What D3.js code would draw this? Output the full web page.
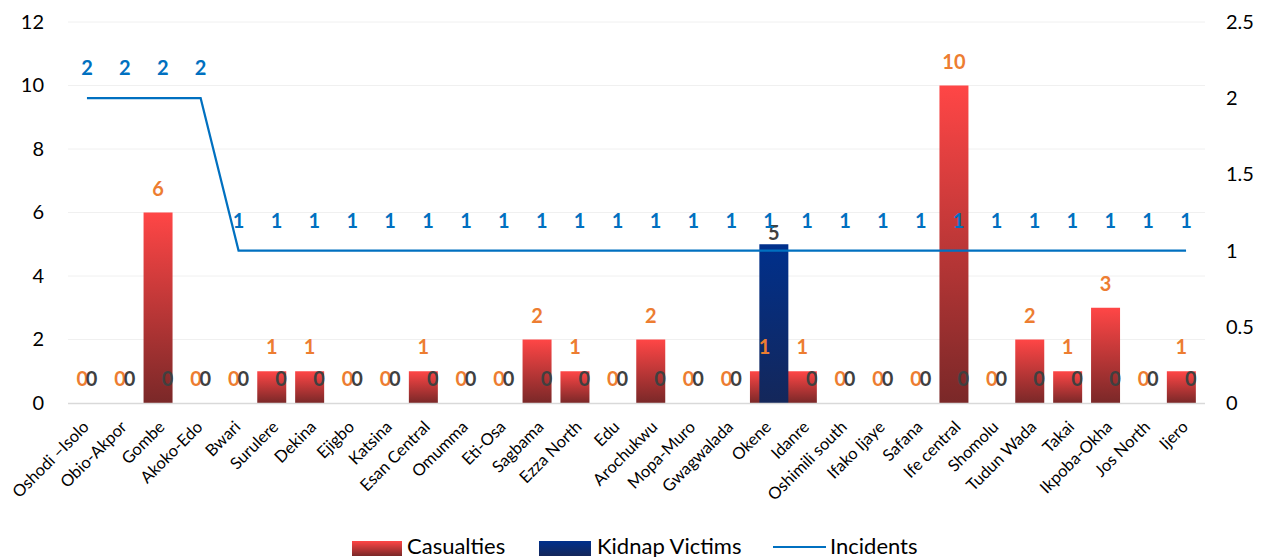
<!DOCTYPE html>
<html>
<head>
<meta charset="utf-8">
<script src="https://cdn.jsdelivr.net/npm/d3@7/dist/d3.min.js"></script>
<style>
  html, body { margin: 0; padding: 0; background: #ffffff; }
  svg { display: block; font-family: Lato, "Open Sans", sans-serif; }
</style>
</head>
<body>
<svg id="chart" width="1269" height="557"></svg>
<script>
// Local government areas
const areas = [
  "Oshodi –Isolo", "Obio-Akpor", "Gombe", "Akoko-Edo", "Bwari", "Surulere",
  "Dekina", "Ejigbo", "Katsina", "Esan Central", "Omumma", "Eti-Osa",
  "Sagbama", "Ezza North", "Edu", "Arochukwu", "Mopa-Muro", "Gwagwalada",
  "Okene", "Idanre", "Oshimili south", "Ifako Ijaye", "Safana", "Ife central",
  "Shomolu", "Tudun Wada", "Takai", "Ikpoba-Okha", "Jos North", "Ijero"
];

// Series values
const casualties = [0, 0, 6, 0, 0, 1, 1, 0, 0, 1, 0, 0, 2, 1, 0, 2, 0, 0, 1, 1, 0, 0, 0, 10, 0, 2, 1, 3, 0, 1];
const kidnapVictims = [0, 0, 0, 0, 0, 0, 0, 0, 0, 0, 0, 0, 0, 0, 0, 0, 0, 0, 5, 0, 0, 0, 0, 0, 0, 0, 0, 0, 0, 0];
const incidents = [2, 2, 2, 2, 1, 1, 1, 1, 1, 1, 1, 1, 1, 1, 1, 1, 1, 1, 1, 1, 1, 1, 1, 1, 1, 1, 1, 1, 1, 1];

// Axis ticks
const leftTicks = [0, 2, 4, 6, 8, 10, 12];
const rightTicks = [0, 0.5, 1, 1.5, 2, 2.5];

const svg = d3.select("#chart");
const plot = { left: 68, right: 1205, top: 22, bottom: 403 };

const x = d3.scaleBand().domain(areas).range([plot.left, plot.right]).padding(0);
const yL = d3.scaleLinear().domain([0, 12]).range([plot.bottom, plot.top]);
const yR = d3.scaleLinear().domain([0, 2.5]).range([plot.bottom, plot.top]);

const barW = x.bandwidth() * 0.765;
const shift = x.bandwidth() * 0.124;
const cx = d => x(d) + x.bandwidth() / 2;

// Gradients for the two bar series
const defs = svg.append("defs");
function grad(id, top, bottom) {
  const g = defs.append("linearGradient").attr("id", id)
    .attr("x1", 0).attr("y1", 0).attr("x2", 0).attr("y2", 1);
  g.append("stop").attr("offset", "0%").attr("stop-color", top);
  g.append("stop").attr("offset", "100%").attr("stop-color", bottom);
}
grad("gCas", "#ff4646", "#7a2828");
grad("gKid", "#00308c", "#14275a");

// Gridlines
svg.append("g").selectAll("line").data(leftTicks.filter(t => t > 0)).join("line")
  .attr("x1", plot.left).attr("x2", plot.right)
  .attr("y1", d => yL(d)).attr("y2", d => yL(d))
  .attr("stroke", "#f0f0f0").attr("stroke-width", 1);

// Left axis
const axL = svg.append("g").attr("transform", `translate(${plot.left - 24},0)`)
  .call(d3.axisLeft(yL).tickValues(leftTicks).tickSize(0).tickPadding(0));
axL.select(".domain").remove();
axL.selectAll("text").attr("font-size", 20).attr("fill", "#000").attr("font-family", "Lato, sans-serif");

// Right axis
const axR = svg.append("g").attr("transform", `translate(${plot.right + 21},0)`)
  .call(d3.axisRight(yR).tickValues(rightTicks).tickSize(0).tickPadding(0).tickFormat(d3.format("")));
axR.select(".domain").remove();
axR.selectAll("text").attr("font-size", 20).attr("fill", "#000").attr("font-family", "Lato, sans-serif");

// Casualties bars
svg.append("g").selectAll("rect").data(areas).join("rect")
  .attr("x", (d) => cx(d) - shift - barW / 2)
  .attr("width", barW)
  .attr("y", (d, i) => yL(casualties[i]))
  .attr("height", (d, i) => yL(0) - yL(casualties[i]))
  .attr("fill", "url(#gCas)");

// Kidnap victims bars
svg.append("g").selectAll("rect").data(areas).join("rect")
  .attr("x", (d) => cx(d) + shift - barW / 2)
  .attr("width", barW)
  .attr("y", (d, i) => yL(kidnapVictims[i]))
  .attr("height", (d, i) => yL(0) - yL(kidnapVictims[i]))
  .attr("fill", "url(#gKid)");

// Baseline
svg.append("line")
  .attr("x1", plot.left).attr("x2", plot.right)
  .attr("y1", plot.bottom + 0.5).attr("y2", plot.bottom + 0.5)
  .attr("stroke", "#d9d9d9").attr("stroke-width", 1.5);

// Incidents line
const line = d3.line().x((d, i) => cx(areas[i])).y(d => yR(d));
svg.append("path").datum(incidents)
  .attr("d", line).attr("fill", "none")
  .attr("stroke", "#0070c0").attr("stroke-width", 2.2);

// Value labels
const lbl = svg.append("g").attr("font-weight", 700).attr("font-size", 20)
  .attr("text-anchor", "middle").attr("dominant-baseline", "central");

lbl.selectAll(".lc").data(areas).join("text").attr("class", "lc")
  .attr("x", d => cx(d) - shift)
  .attr("y", (d, i) => yL(casualties[i]) - 25)
  .attr("fill", "#ed7d31")
  .text((d, i) => casualties[i]);

lbl.selectAll(".lk").data(areas).join("text").attr("class", "lk")
  .attr("x", d => cx(d) + shift)
  .attr("y", (d, i) => yL(kidnapVictims[i]) - (kidnapVictims[i] > 0 ? 12 : 25))
  .attr("fill", "#404040")
  .text((d, i) => kidnapVictims[i]);

lbl.selectAll(".li").data(areas).join("text").attr("class", "li")
  .attr("x", d => cx(d))
  .attr("y", (d, i) => yR(incidents[i]) - 31)
  .attr("fill", "#0070c0")
  .text((d, i) => incidents[i]);

// Category labels
svg.append("g").selectAll("text").data(areas).join("text")
  .attr("transform", d => `translate(${cx(d) + 3},${plot.bottom + 25}) rotate(-45)`)
  .attr("text-anchor", "end")
  .attr("font-size", 16.5)
  .attr("fill", "#000")
  .text(d => d);

// Legend
const leg = svg.append("g").attr("font-size", 22).attr("fill", "#000");
leg.append("rect").attr("x", 352).attr("y", 541).attr("width", 50).attr("height", 15).attr("fill", "url(#gCas)");
leg.append("text").attr("x", 407).attr("y", 545).attr("dominant-baseline", "central").text("Casualties");
leg.append("rect").attr("x", 539).attr("y", 541).attr("width", 52).attr("height", 15).attr("fill", "url(#gKid)");
leg.append("text").attr("x", 597).attr("y", 545).attr("dominant-baseline", "central").text("Kidnap Victims");
leg.append("line").attr("x1", 773).attr("x2", 826).attr("y1", 547).attr("y2", 547)
  .attr("stroke", "#0070c0").attr("stroke-width", 2.2);
leg.append("text").attr("x", 830).attr("y", 545).attr("dominant-baseline", "central").text("Incidents");
</script>
</body>
</html>
